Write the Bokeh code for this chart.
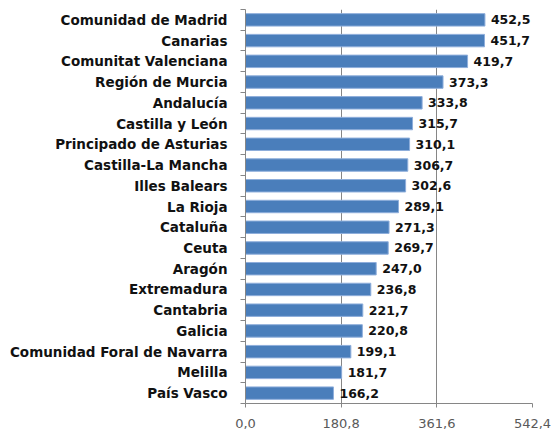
from bokeh.plotting import figure
from bokeh.models import ColumnDataSource, Range1d, FixedTicker, LabelSet
from bokeh.core.properties import value
from bokeh.embed import file_html
from bokeh.resources import INLINE

regions = ["Comunidad de Madrid", "Canarias", "Comunitat Valenciana", "Región de Murcia",
           "Andalucía", "Castilla y León", "Principado de Asturias", "Castilla-La Mancha",
           "Illes Balears", "La Rioja", "Cataluña", "Ceuta", "Aragón", "Extremadura",
           "Cantabria", "Galicia", "Comunidad Foral de Navarra", "Melilla", "País Vasco"]
values = [452.5, 451.7, 419.7, 373.3, 333.8, 315.7, 310.1, 306.7, 302.6, 289.1,
          271.3, 269.7, 247.0, 236.8, 221.7, 220.8, 199.1, 181.7, 166.2]
x_ticks = [0.0, 180.8, 361.6, 542.4]

def fmt(v):
    return f"{v:.1f}".replace(".", ",")

n = len(regions)
pos = list(range(n))
src = ColumnDataSource(dict(y=pos, v=values, lab=[fmt(v) for v in values]))

p = figure(width=552, height=432, output_backend="svg", toolbar_location=None,
           x_range=Range1d(0, 542.4), y_range=Range1d(n - 0.5, -0.5),
           min_border_left=245, min_border_right=20, min_border_top=9, min_border_bottom=29)
p.outline_line_color = None
p.background_fill_color = "white"

p.hbar(y="y", right="v", left=0, height=0.6, source=src,
       fill_color="#4a7ebb", line_color="#8eaedb", line_width=1)

labels = LabelSet(x="v", y="y", text="lab", source=src, x_offset=6,
                  text_baseline="middle", text_align="left",
                  text_font=value("DejaVu Sans"), text_font_style="bold",
                  text_font_size=value("12.5px"), text_color="#111111")
p.add_layout(labels)

# x axis
p.xaxis.ticker = FixedTicker(ticks=x_ticks)
p.xaxis.major_label_overrides = {t: fmt(t) for t in x_ticks}
p.xaxis.major_label_text_font = "DejaVu Sans"
p.xaxis.major_label_text_font_size = "13px"
p.xaxis.major_label_text_color = "#595959"
p.xaxis.axis_line_color = "#868686"
p.xaxis.major_tick_line_color = "#868686"
p.xaxis.major_tick_out = 4
p.xaxis.major_tick_in = 0
p.xaxis.minor_tick_line_color = None
p.xaxis.major_label_standoff = 11

# y axis: labels at centers, ticks at boundaries
p.yaxis.ticker = FixedTicker(ticks=pos, minor_ticks=[i - 0.5 for i in range(n + 1)])
p.yaxis.major_label_overrides = {i: r for i, r in enumerate(regions)}
p.yaxis.major_label_text_font = "DejaVu Sans"
p.yaxis.major_label_text_font_style = "bold"
p.yaxis.major_label_text_font_size = "13.5px"
p.yaxis.major_label_text_color = "#111111"
p.yaxis.axis_line_color = "#868686"
p.yaxis.major_tick_line_color = None
p.yaxis.minor_tick_line_color = "#868686"
p.yaxis.minor_tick_out = 5
p.yaxis.minor_tick_in = 0
p.yaxis.major_label_standoff = 12

p.ygrid.grid_line_color = None
p.xgrid.grid_line_color = "#868686"
p.xgrid.grid_line_width = 1

open("out.html", "w").write(file_html(p, INLINE))
